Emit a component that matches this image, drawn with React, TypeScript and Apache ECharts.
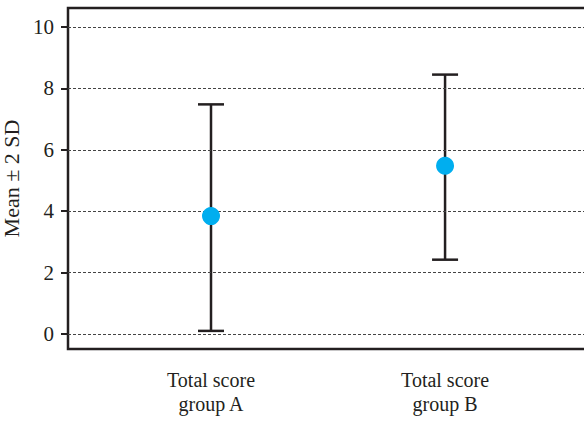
import React, { useEffect, useRef } from "react";
import * as echarts from "echarts";

const groups = ["Total score\ngroup A", "Total score\ngroup B"];
const groupPos = [1, 2];
const means = [3.84, 5.48];
const lowerBounds = [0.1, 2.42];
const upperBounds = [7.48, 8.45];
const yTicks = [0, 2, 4, 6, 8, 10];

const INK = "#231f20";
const FONT = "serif";

export default function App() {
  const ref = useRef<HTMLDivElement>(null);
  useEffect(() => {
    if (!ref.current) return;
    const chart = echarts.init(ref.current, undefined, { renderer: "svg" });
    const barData = groupPos.map((x, i) => [x, lowerBounds[i], upperBounds[i]]);
    const meanData = groupPos.map((x, i) => [x, means[i]]);
    chart.setOption({
      animation: false,
      backgroundColor: "#ffffff",
      textStyle: { fontFamily: FONT },
      grid: {
        left: 68,
        top: 8,
        right: -5,
        bottom: 74,
        outerBoundsMode: "none",
        containLabel: false,
        show: true,
        borderColor: INK,
        borderWidth: 2.5,
        backgroundColor: "transparent",
      },
      xAxis: {
        type: "value",
        min: 0.389,
        max: 2.615,
        axisLine: { show: false },
        axisTick: { show: false },
        splitLine: { show: false },
        axisLabel: {
          customValues: groupPos,
          formatter: (v: number) => groups[Math.round(v) - 1] ?? "",
          fontFamily: FONT,
          fontSize: 20,
          lineHeight: 24,
          color: INK,
          margin: 19,
        },
      },
      yAxis: {
        type: "value",
        min: -0.49,
        max: 10.62,
        name: "Mean ± 2 SD",
        nameLocation: "middle",
        nameGap: 32,
        nameTextStyle: { fontFamily: FONT, fontSize: 22, color: INK },
        axisLine: { show: false },
        axisTick: {
          show: true,
          customValues: yTicks,
          length: 7,
          lineStyle: { color: INK, width: 2 },
        },
        splitLine: { show: false },
        axisLabel: {
          customValues: yTicks,
          fontFamily: FONT,
          fontSize: 21,
          color: INK,
          margin: 14,
        },
      },
      series: [
        {
          type: "custom",
          silent: true,
          data: barData,
          z: 3,
          markLine: {
            silent: true,
            symbol: "none",
            label: { show: false },
            lineStyle: { color: "#444", width: 1, type: [3, 2] },
            data: yTicks.map((v) => ({ yAxis: v })),
          },
          renderItem: (params: any, api: any) => {
            const x = api.value(0);
            const lo = api.coord([x, api.value(1)]);
            const hi = api.coord([x, api.value(2)]);
            const half = 13;
            const style = { stroke: INK, lineWidth: 2.5 };
            return {
              type: "group",
              children: [
                { type: "line", shape: { x1: lo[0], y1: lo[1], x2: hi[0], y2: hi[1] }, style },
                { type: "line", shape: { x1: hi[0] - half, y1: hi[1], x2: hi[0] + half, y2: hi[1] }, style },
                { type: "line", shape: { x1: lo[0] - half, y1: lo[1], x2: lo[0] + half, y2: lo[1] }, style },
              ],
            };
          },
        },
        {
          type: "scatter",
          silent: true,
          data: meanData,
          symbolSize: 18,
          itemStyle: { color: "#00aeef", opacity: 1 },
          z: 5,
        },
      ],
    });
    return () => chart.dispose();
  }, []);
  return (
    <div
      ref={ref}
      style={{ position: "fixed", left: 0, top: 0, width: 584, height: 423 }}
    />
  );
}
